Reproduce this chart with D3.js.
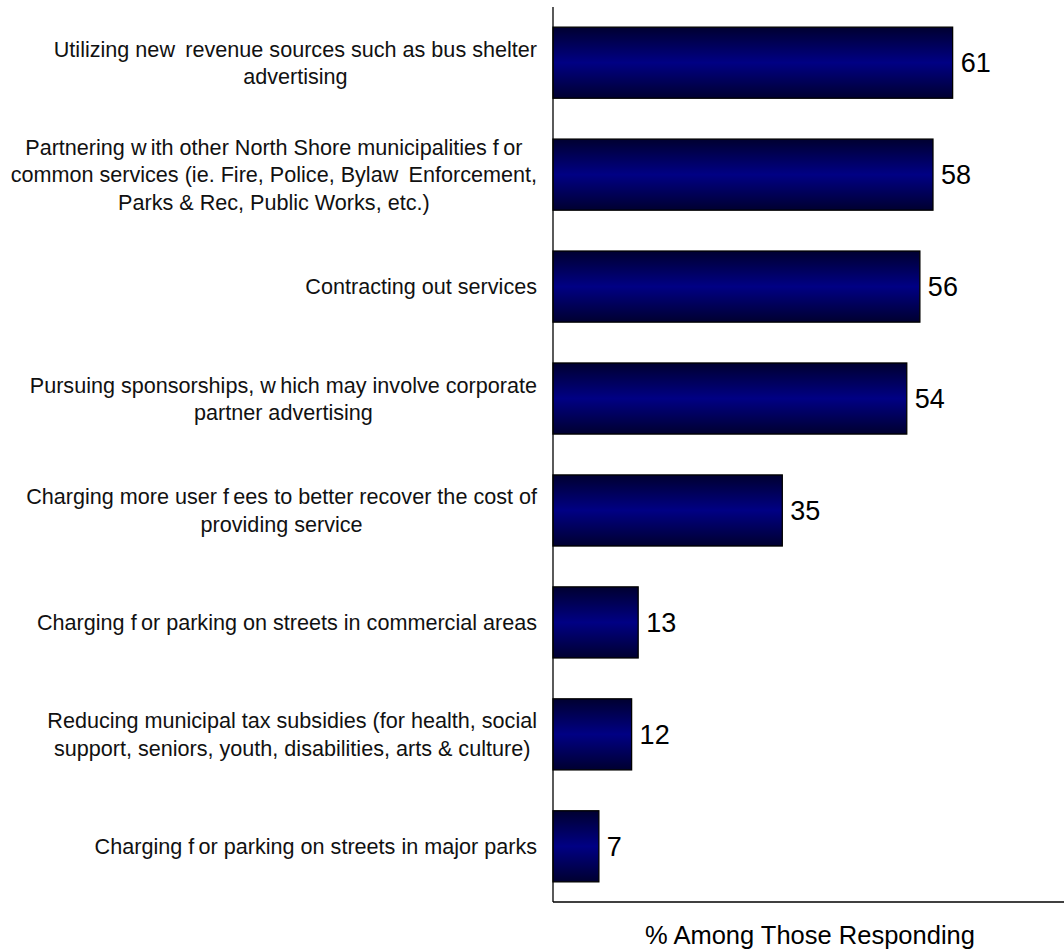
<!DOCTYPE html>
<html>
<head>
<meta charset="utf-8">
<script src="https://cdn.jsdelivr.net/npm/d3@7"></script>
<style>
  html, body { margin: 0; padding: 0; background: #fff; }
  svg { display: block; font-family: "Liberation Sans", Arial, sans-serif; }
</style>
</head>
<body>
<svg id="chart" width="1064" height="949"></svg>
<script>
// Survey options, each split into the display lines of its label
const categories = [
  ["Utilizing new\u2009 revenue sources such as bus shelter", "advertising"],
  ["Partnering w\u2009ith other North Shore municipalities f\u2009or", "common services (ie. Fire, Police, Bylaw\u2009 Enforcement,", "Parks & Rec, Public Works, etc.)"],
  ["Contracting out services"],
  ["Pursuing sponsorships, w\u2009hich may involve corporate", "partner advertising"],
  ["Charging more user f\u2009ees to better recover the cost of", "providing service"],
  ["Charging f\u2009or parking on streets in commercial areas"],
  ["Reducing municipal tax subsidies (for health, social", "support, seniors, youth, disabilities, arts & culture)"],
  ["Charging f\u2009or parking on streets in major parks"]
];
const values = [61, 58, 56, 54, 35, 13, 12, 7];
const axisTitle = "% Among Those Responding";

const svg = d3.select("#chart");
const plot = { left: 553, right: 1064, top: 7, bottom: 902 };
const labelRight = 537;

const x = d3.scaleLinear().domain([0, 78]).range([plot.left, plot.right]);
const y = d3.scaleBand()
  .domain(d3.range(values.length))
  .range([plot.top, plot.bottom])
  .paddingInner(0.365)
  .paddingOuter(0.18);

// Bar fill: dark edges shading to navy in the middle
const grad = svg.append("defs").append("linearGradient")
  .attr("id", "barFill").attr("x1", 0).attr("y1", 0).attr("x2", 0).attr("y2", 1);
grad.append("stop").attr("offset", "0%").attr("stop-color", "#000030");
grad.append("stop").attr("offset", "50%").attr("stop-color", "#000084");
grad.append("stop").attr("offset", "100%").attr("stop-color", "#000030");

// Bars
svg.append("g").selectAll("rect")
  .data(values)
  .join("rect")
  .attr("x", x(0))
  .attr("y", (d, i) => y(i))
  .attr("width", d => x(d) - x(0))
  .attr("height", y.bandwidth())
  .attr("fill", "url(#barFill)")
  .attr("stroke", "#000")
  .attr("stroke-width", 1.3);

// Value labels
svg.append("g").selectAll("text")
  .data(values)
  .join("text")
  .attr("x", d => x(d) + 8)
  .attr("y", (d, i) => y(i) + y.bandwidth() / 2)
  .attr("dy", "0.36em")
  .attr("font-size", 27)
  .attr("fill", "#000")
  .text(d => d);

// Category labels: each block right-aligned, lines centred within the block
const lineH = 27.5;
const labelG = svg.append("g");
categories.forEach((lines, i) => {
  const t = labelG.append("text")
    .attr("font-size", 21.6)
    .attr("fill", "#111")
    .attr("text-anchor", "middle");
  const cy = y(i) + y.bandwidth() / 2;
  const y0 = cy - (lines.length - 1) * lineH / 2;
  const spans = lines.map((ln, k) => t.append("tspan")
    .attr("y", y0 + k * lineH)
    .attr("dy", "0.36em")
    .style("white-space", "pre")
    .text(ln));
  const w = d3.max(spans, s => s.node().getComputedTextLength());
  spans.forEach(s => s.attr("x", labelRight - w / 2));
});

// Axis lines
svg.append("line")
  .attr("x1", x(0)).attr("x2", x(0))
  .attr("y1", plot.top).attr("y2", plot.bottom)
  .attr("stroke", "#000").attr("stroke-width", 1.3);
svg.append("line")
  .attr("x1", x(0)).attr("x2", plot.right)
  .attr("y1", plot.bottom).attr("y2", plot.bottom)
  .attr("stroke", "#000").attr("stroke-width", 1.3);

// Axis title
svg.append("text")
  .attr("x", 810)
  .attr("y", 935)
  .attr("dy", "0.36em")
  .attr("text-anchor", "middle")
  .attr("font-size", 25.5)
  .attr("fill", "#000")
  .text(axisTitle);
</script>
</body>
</html>
